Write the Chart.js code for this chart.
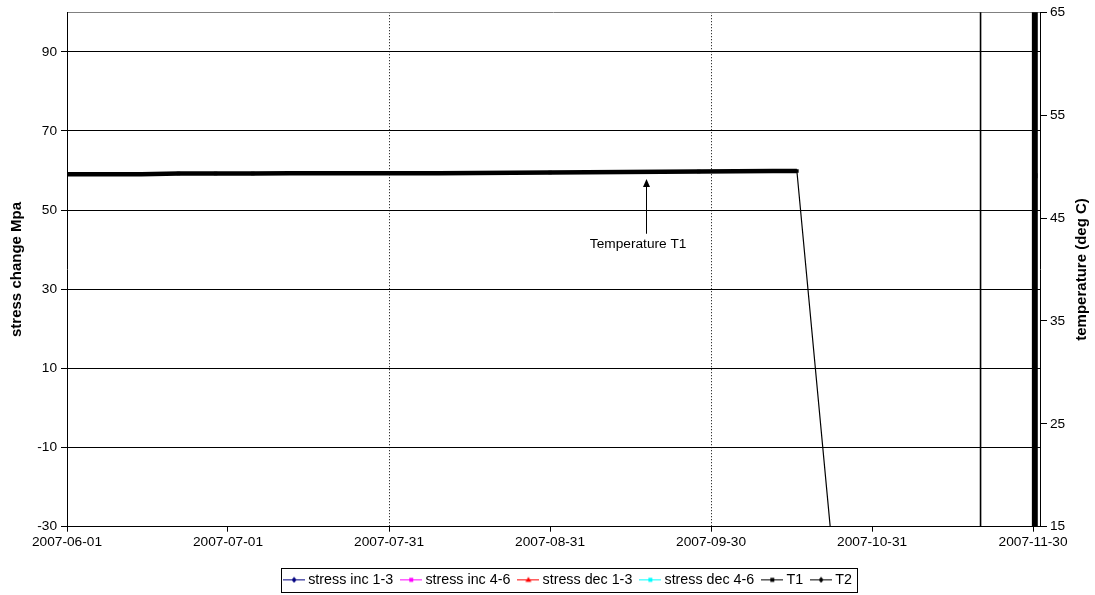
<!DOCTYPE html>
<html lang="en">
<head>
    <meta charset="UTF-8">
    <title>Stress and temperature</title>
    <script src="https://cdn.jsdelivr.net/npm/chart.js@4.4.0/dist/chart.umd.min.js"></script>
    <style>
        body {
            margin: 0;
            background: #fff;
        }
        canvas {
            display: block;
        }
    </style>
</head>
<body>

<canvas id="chart" width="1095" height="595"></canvas>

<script>

// x values are days after 2007-06-01
var xTickDays = [0, 30.33, 60.67, 91, 121.33, 151.67, 182];
var xTickLabels = ["2007-06-01", "2007-07-01", "2007-07-31", "2007-08-31", "2007-09-30", "2007-10-31", "2007-11-30"];
var leftTicks = [-30, -10, 10, 30, 50, 70, 90];
var rightTicks = [15, 25, 35, 45, 55, 65];

var stressInc13 = [];
var stressInc46 = [];
var stressDec13 = [];
var stressDec46 = [];

var t1Days = [0, 7, 14, 21, 28, 35, 42, 49, 56, 63, 70, 77, 84, 91, 98, 105, 112, 119, 126, 133, 137.5,
              146.5, 182.05, 182.05, 182.6, 182.6, 182.35, 182.35];
var t1Values = [49.25, 49.25, 49.26, 49.32, 49.33, 49.33, 49.34, 49.34, 49.35, 49.35, 49.36, 49.37, 49.40, 49.42,
                49.44, 49.46, 49.50, 49.52, 49.54, 49.56, 49.57,
                0, 0, 90, 90, 0, 0, 49.1];

var t2Days = [172.1, 172.1];
var t2Values = [0, 90];

var note = {text: "Temperature T1", day: 109.1, textDay: 107.6, tip: 48.8, textValue: 42.5};

function toPoints(xs, ys) {
    return xs.map(function (x, i) { return {x: x, y: ys[i]}; });
}

// little line + marker picture for the legend
function legendIcon(color, marker) {
    var c = document.createElement('canvas');
    c.width = 22;
    c.height = 7;
    var g = c.getContext('2d');
    g.strokeStyle = color;
    g.fillStyle = color;
    g.lineWidth = 1;
    g.beginPath();
    g.moveTo(0, 3.5);
    g.lineTo(22, 3.5);
    g.stroke();
    g.beginPath();
    if (marker === 'rect') {
        g.rect(9, 1.5, 4, 4);
    } else if (marker === 'triangle') {
        g.moveTo(11, 0.5); g.lineTo(14, 5.5); g.lineTo(8, 5.5); g.closePath();
    } else {
        g.moveTo(11, 0.5); g.lineTo(13.5, 3.5); g.lineTo(11, 6.5); g.lineTo(8.5, 3.5); g.closePath();
    }
    g.fill();
    return c;
}

var FONT = 'Liberation Sans, Arial, sans-serif';
Chart.defaults.font.family = FONT;
Chart.defaults.font.size = 13.7;
Chart.defaults.color = '#000';

var legendShiftX = 22;
var legendShiftY = 5;

var extras = {
    id: 'extras',
    afterUpdate: function (chart) {
        var lg = chart.legend;
        lg.left += legendShiftX;
        lg.right += legendShiftX;
        lg.top += legendShiftY;
        lg.bottom += legendShiftY;
        lg.legendHitBoxes.forEach(function (h) {
            h.left += legendShiftX;
            h.top += legendShiftY;
        });
    },
    afterDatasetsDraw: function (chart) {
        var ctx = chart.ctx;
        var x = chart.scales.x, y2 = chart.scales.y2;
        var ax = Math.round(x.getPixelForValue(note.day)) + 0.5;
        var tipY = y2.getPixelForValue(note.tip);
        var ty = y2.getPixelForValue(note.textValue);
        ctx.save();
        ctx.strokeStyle = '#000';
        ctx.fillStyle = '#000';
        ctx.lineWidth = 1;
        ctx.beginPath();
        ctx.moveTo(ax, ty - 10);
        ctx.lineTo(ax, tipY + 6);
        ctx.stroke();
        ctx.beginPath();
        ctx.moveTo(ax, tipY);
        ctx.lineTo(ax + 3.5, tipY + 8);
        ctx.lineTo(ax - 3.5, tipY + 8);
        ctx.closePath();
        ctx.fill();
        ctx.font = '13.7px ' + FONT;
        ctx.textAlign = 'center';
        ctx.textBaseline = 'middle';
        ctx.fillText(note.text, x.getPixelForValue(note.textDay), ty);
        ctx.restore();
    },
    afterDraw: function (chart) {
        var ctx = chart.ctx;
        // right axis title, reading upwards like the left one
        ctx.save();
        ctx.font = 'bold 15px ' + FONT;
        ctx.fillStyle = '#000';
        ctx.textAlign = 'center';
        ctx.textBaseline = 'middle';
        ctx.translate(1082, (chart.chartArea.top + chart.chartArea.bottom) / 2);
        ctx.rotate(-Math.PI / 2);
        ctx.fillText('temperature (deg C)', 0, 0);
        ctx.restore();

        // frame round the legend
        var hb = chart.legend.legendHitBoxes;
        if (!hb.length) return;
        var first = hb[0], last = hb[hb.length - 1];
        var l = Math.round(first.left - 6) + 0.5;
        var r = Math.round(last.left + last.width + 5) + 0.5;
        var t = Math.round(first.top - 5) + 0.5;
        var b = Math.round(first.top + first.height + 5) + 0.5;
        ctx.save();
        ctx.strokeStyle = '#000';
        ctx.lineWidth = 1;
        ctx.strokeRect(l, t, r - l, b - t);
        ctx.restore();
    }
};

var icons = [
    legendIcon('#000080', 'rectRot'),
    legendIcon('#ff00ff', 'rect'),
    legendIcon('#ff0000', 'triangle'),
    legendIcon('#00ffff', 'rect'),
    legendIcon('#000000', 'rect'),
    legendIcon('#000000', 'rectRot')
];

var ctx = document.getElementById('chart').getContext('2d');

var chart = new Chart(ctx, {
    type: 'line',
    data: {
        datasets: [{
            label: 'stress inc 1-3',
            data: stressInc13,
            borderColor: '#000080',
            backgroundColor: '#000080',
            pointStyle: 'rectRot',
            borderWidth: 1,
            yAxisID: 'y'
        }, {
            label: 'stress inc 4-6',
            data: stressInc46,
            borderColor: '#ff00ff',
            backgroundColor: '#ff00ff',
            pointStyle: 'rect',
            borderWidth: 1,
            yAxisID: 'y'
        }, {
            label: 'stress dec 1-3',
            data: stressDec13,
            borderColor: '#ff0000',
            backgroundColor: '#ff0000',
            pointStyle: 'triangle',
            borderWidth: 1,
            yAxisID: 'y'
        }, {
            label: 'stress dec 4-6',
            data: stressDec46,
            borderColor: '#00ffff',
            backgroundColor: '#00ffff',
            pointStyle: 'rect',
            borderWidth: 1,
            yAxisID: 'y'
        }, {
            label: 'T1',
            data: toPoints(t1Days, t1Values),
            borderColor: '#000',
            backgroundColor: '#000',
            pointStyle: 'rect',
            pointBorderWidth: 0,
            pointRadius: function (c) {
                if (c.dataIndex <= 20) return 2.5;
                if (c.dataIndex === t1Days.length - 1) return 3.5;
                return 0;
            },
            borderWidth: 4.5,
            segment: {
                borderWidth: function (c) {
                    if (c.p1.parsed.x <= 137.5) return 4.5;
                    if (c.p0.parsed.x >= 180) return 3;
                    return 1.2;
                }
            },
            yAxisID: 'y2'
        }, {
            label: 'T2',
            data: toPoints(t2Days, t2Values),
            borderColor: '#000',
            backgroundColor: '#000',
            pointStyle: 'rectRot',
            pointRadius: 0,
            borderWidth: 1.6,
            yAxisID: 'y2'
        }]
    },
    options: {
        responsive: false,
        animation: false,
        devicePixelRatio: 1,
        layout: {
            padding: {left: 0, right: 0, top: 11, bottom: 3}
        },
        elements: {
            line: {tension: 0}
        },
        plugins: {
            tooltip: {enabled: false},
            legend: {
                position: 'bottom',
                labels: {
                    usePointStyle: true,
                    pointStyleWidth: 14,
                    padding: 11,
                    color: '#000',
                    font: {size: 14.3},
                    generateLabels: function (ch) {
                        return ch.data.datasets.map(function (ds, i) {
                            return {
                                text: ds.label,
                                pointStyle: icons[i],
                                datasetIndex: i,
                                fontColor: '#000',
                                lineWidth: 0,
                                strokeStyle: 'rgba(0,0,0,0)',
                                fillStyle: 'rgba(0,0,0,0)',
                                hidden: false
                            };
                        });
                    }
                }
            }
        },
        scales: {
            x: {
                type: 'linear',
                min: 0,
                max: 183.3,
                afterBuildTicks: function (s) {
                    s.ticks = xTickDays.map(function (v) { return {value: v}; });
                },
                afterFit: function (s) { s.height = 30; },
                ticks: {
                    autoSkip: false,
                    maxRotation: 0,
                    minRotation: 0,
                    padding: 2,
                    callback: function (v, i) { return xTickLabels[i]; }
                },
                grid: {
                    color: function (c) { return (c.index === 2 || c.index === 4) ? '#000' : 'rgba(0,0,0,0)'; },
                    tickColor: '#000',
                    tickLength: 5,
                    lineWidth: 1
                },
                border: {color: '#000', width: 1, dash: [1, 2]}
            },
            y: {
                position: 'left',
                min: -30,
                max: 100,
                afterBuildTicks: function (s) {
                    s.ticks = leftTicks.map(function (v) { return {value: v}; });
                },
                afterFit: function (s) { s.width = 67; },
                ticks: {padding: 4},
                grid: {color: '#000', tickColor: '#000', tickLength: 6, lineWidth: 1},
                border: {color: '#000', width: 1},
                title: {
                    display: true,
                    text: 'stress change Mpa',
                    font: {size: 15, weight: 'bold'},
                    padding: {top: 8, bottom: 0}
                }
            },
            y2: {
                position: 'right',
                min: 15,
                max: 65,
                afterBuildTicks: function (s) {
                    s.ticks = rightTicks.map(function (v) { return {value: v}; });
                },
                afterFit: function (s) { s.width = 55; },
                ticks: {padding: 3},
                grid: {
                    color: function (c) { return (c.tick && c.tick.value === 65) ? '#808080' : 'rgba(0,0,0,0)'; },
                    tickColor: '#000',
                    tickLength: 7,
                    lineWidth: 1
                },
                border: {color: '#000', width: 1}
            }
        }
    },
    plugins: [extras]
});

</script>

</body>
</html>
